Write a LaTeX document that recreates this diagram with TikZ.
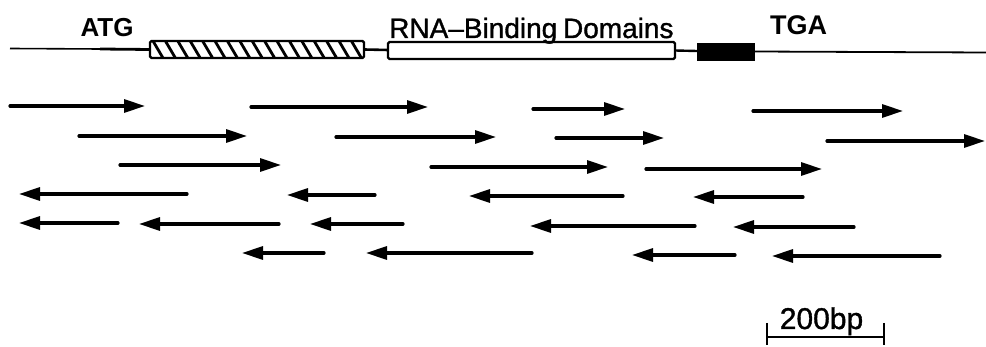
\documentclass[tikz,border=0pt]{standalone}
\usepackage{fontspec}
\setmainfont{Liberation Sans}
\newfontfamily\medfont{Liberation Sans}[FakeBold=1.2]
\usetikzlibrary{arrows.meta}
\tikzset{
  seqread/.style={line width=3.2pt, line cap=round, -{Triangle[length=21pt,width=13pt]}},
  domainbox/.style={line width=2.2pt, rounded corners=1.5pt},
  label/.style={inner sep=0pt, anchor=base},
}
\begin{document}
\begin{tikzpicture}[x=1pt,y=-1pt]
\useasboundingbox (0,0) rectangle (986,347);

% gene backbone
\draw[line width=1.6pt] (10,48.5) -- (100,49);
\draw[line width=2.8pt] (100,49) -- (150,49.5);
\draw[line width=2.6pt] (364,49.5) -- (388,50);
\draw[line width=2.4pt] (675,50.5) -- (697,51);
\draw[line width=1.8pt] (754,51.5) -- (986,52.5);

% hatched coding region
\begin{scope}
  \clip (150,41) rectangle (364,58);
  \foreach \i in {-1,...,17}
    \draw[line width=2.8pt] ({153+\i*12.4},41) -- ({153+\i*12.4+10},58);
\end{scope}
\node[domainbox, draw, minimum width=214pt, minimum height=17pt, inner sep=0pt] (hatch) at (257,49.5) {};

% RNA-binding domains box
\node[domainbox, draw, fill=white, minimum width=287pt, minimum height=17pt, inner sep=0pt] (rbd) at (531.5,50.5) {};

% solid block
\node[draw, fill=black, line width=1pt, minimum width=57pt, minimum height=17pt, inner sep=0pt] (blk) at (725.5,52) {};

% labels
\node[label, font=\bfseries\fontsize{26}{26}\selectfont] (atg) at (107,37) {ATG};
\node[label, font=\bfseries\fontsize{27}{27}\selectfont] (tga) at (798.5,35) {TGA};
\node[inner sep=0pt, anchor=base west, font=\medfont\fontsize{28}{28}\selectfont] (rbdlab) at (389,38) {RNA–Binding\hspace{-2pt} Domains};

% sense reads
\foreach \a/\b/\y in {10/145/106, 251/428/107, 533/625/109, 753/903/111,
                      79/247/136, 336/496/137, 556/664/138, 827/985/141,
                      120/281/165, 431/608/167, 646/822/169}
  \draw[seqread] (\a,\y) -- (\b,\y);

% antisense reads
\foreach \a/\b/\y in {187/19/194, 375/287/195, 623/469/196, 803/693/197,
                      118/19/223, 279/139/224, 403/310/224, 695/530/226, 854/733/227,
                      324/242/253, 532/366/253, 735/632/255, 940/772/256}
  \draw[seqread] (\a,\y) -- (\b,\y);

% scale bar
\coordinate (sbl) at (767,337);
\coordinate (sbr) at (884,337);
\draw[line width=2.8pt] (sbl) -- (sbr);
\draw[line width=2.8pt] (767,323) -- (767,345);
\draw[line width=2.8pt] (884,323) -- (884,345);
\node[label, font=\medfont\fontsize{30}{30}\selectfont] (sblab) at (821.5,329) {200bp};
\end{tikzpicture}
\end{document}
